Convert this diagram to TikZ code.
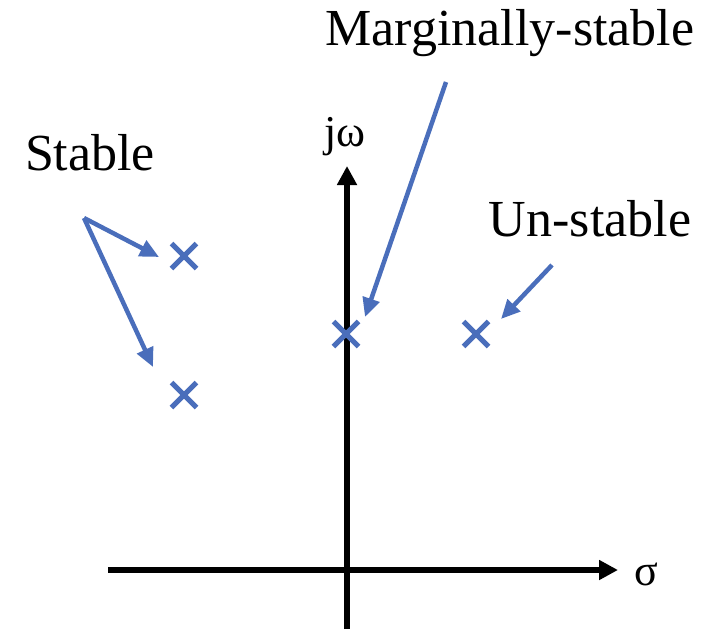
\documentclass[tikz,border=0pt]{standalone}
\usepackage{fontspec}
\setmainfont{Liberation Serif}
\usetikzlibrary{arrows.meta,shapes.misc}
\definecolor{pblue}{HTML}{4A6EBB}
\tikzset{
  axis/.style={line width=6pt, -{Triangle[length=19pt,width=19pt]}},
  pole/.style={draw=pblue, line width=5pt, minimum size=20pt, inner sep=0pt, cross out},
  pointer/.style={pblue, line width=4.5pt, -{Triangle[length=19pt,width=17pt]}},
  lbl/.style={font=\fontsize{52}{56}\selectfont, inner sep=0pt}
}
\begin{document}
\begin{tikzpicture}[x=1pt,y=-1pt]
\useasboundingbox (0,0) rectangle (708,629);
\coordinate (vb) at (347,629);
\coordinate (vt) at (347,166);
\coordinate (hl) at (108,570);
\coordinate (hr) at (618,570);
\draw[axis] (vb) -- (vt);
\draw[axis] (hl) -- (hr);
\node[lbl, font=\fontsize{44}{48}\selectfont] (sigma) at (646,574) {σ};
\node[lbl, font=\fontsize{44}{48}\selectfont] (jw) at (345,137) {jω};
\node[pole] (p1) at (184,256) {};
\node[pole] (p2) at (184,395) {};
\node[pole] (p3) at (346,334) {};
\node[pole] (p4) at (476,334) {};
\node[lbl] (stable) at (90,153) {Stable};
\node[lbl] (marg) at (510,33) {Marginally-stable};
\node[lbl] (unst) at (590,219) {Un-stable};
\coordinate (s0) at (84,218);
\coordinate (m0) at (446,82);
\coordinate (u0) at (552,265);
\draw[pointer] (s0) -- (159,257);
\draw[pointer] (s0) -- (153,367);
\draw[pointer] (m0) -- (365,317);
\draw[pointer] (u0) -- (501,319);
\end{tikzpicture}
\end{document}
